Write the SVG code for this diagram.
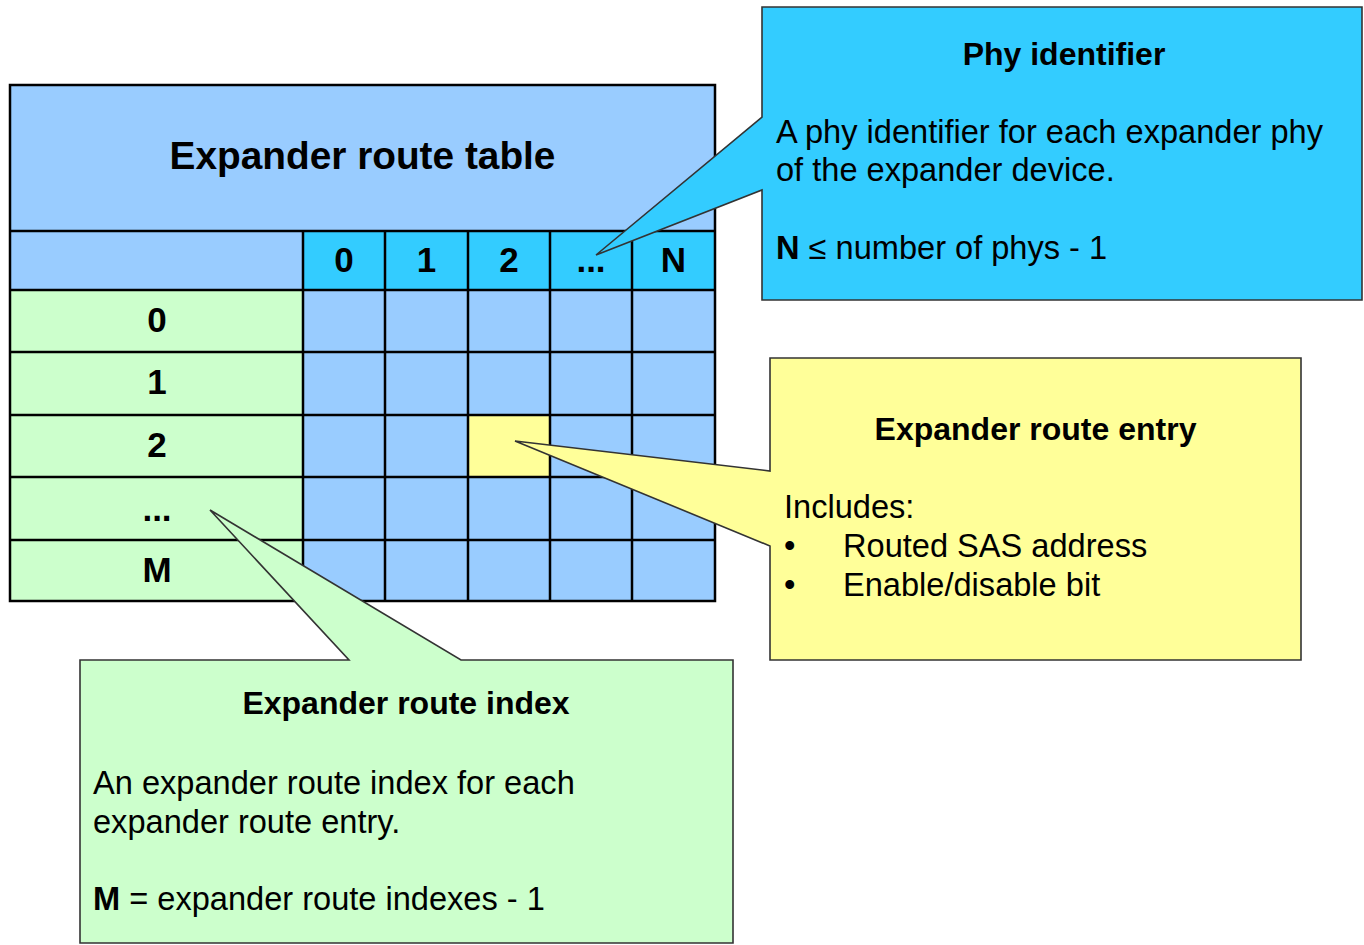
<svg xmlns="http://www.w3.org/2000/svg" width="1364" height="945" viewBox="0 0 1364 945">
<style>
text{font-family:"Liberation Sans",Arial,sans-serif;fill:#000}
.b{font-weight:bold}
.title{font-size:38.8px;font-weight:bold}
.cell{font-size:35px;font-weight:bold;text-anchor:middle}
.h{font-size:32px;font-weight:bold;text-anchor:middle}
.t{font-size:32.6px}
.grid{stroke:#000;stroke-width:2.5;fill:none}
.call{stroke:#333;stroke-width:1.6;stroke-linejoin:miter}
</style>
<rect width="1364" height="945" fill="#fff"/>
<g id="route-table">
  <rect x="10" y="85" width="705" height="146" fill="#99CCFF"/>
  <rect x="10" y="231" width="293" height="59" fill="#99CCFF"/>
  <rect x="303" y="231" width="412" height="59" fill="#33CCFF"/>
  <rect x="10" y="290" width="293" height="311" fill="#CCFFCC"/>
  <rect x="303" y="290" width="412" height="311" fill="#99CCFF"/>
  <rect x="468" y="415" width="82" height="62" fill="#FFFF99"/>
  <path class="grid" d="M10,85H715V601H10Z M10,231H715 M10,290H715 M10,352H715 M10,415H715 M10,477H715 M10,540H715 M303,231V601 M385,231V601 M468,231V601 M550,231V601 M632,231V601"/>
  <text class="title" x="362.5" y="169" text-anchor="middle">Expander route table</text>
  <text class="cell" x="344" y="272">0</text>
  <text class="cell" x="426.5" y="272">1</text>
  <text class="cell" x="509" y="272">2</text>
  <text class="cell" x="591" y="272">...</text>
  <text class="cell" x="673.5" y="272">N</text>
  <text class="cell" x="157" y="332">0</text>
  <text class="cell" x="157" y="394">1</text>
  <text class="cell" x="157" y="457">2</text>
  <text class="cell" x="157" y="521">...</text>
  <text class="cell" x="157" y="582">M</text>
</g>
<g id="connectors"></g>
<g id="phy-identifier">
  <path class="call" fill="#33CCFF" d="M762,7H1362V300H762V190L596,255L762,117Z"/>
  <text class="h" x="1064" y="65">Phy identifier</text>
  <text class="t" x="776" y="143">A phy identifier for each expander phy</text>
  <text class="t" x="776" y="181">of the expander device.</text>
  <text class="t" x="776" y="259"><tspan class="b">N</tspan> ≤ number of phys - 1</text>
</g>
<g id="route-entry">
  <path class="call" fill="#FFFF99" d="M770,358H1301V660H770V546L515,441L770,471Z"/>
  <text class="h" x="1035.5" y="440">Expander route entry</text>
  <text class="t" x="784" y="518">Includes:</text>
  <text class="t" x="784" y="557">•</text>
  <text class="t" x="843" y="557">Routed SAS address</text>
  <text class="t" x="784" y="596">•</text>
  <text class="t" x="843" y="596">Enable/disable bit</text>
</g>
<g id="route-index">
  <path class="call" fill="#CCFFCC" d="M80,660H349L210,510L461,660H733V943H80Z"/>
  <text class="h" x="406" y="714">Expander route index</text>
  <text class="t" x="93" y="794">An expander route index for each</text>
  <text class="t" x="93" y="833">expander route entry.</text>
  <text class="t" x="93" y="910"><tspan class="b">M</tspan> = expander route indexes - 1</text>
</g>
</svg>
